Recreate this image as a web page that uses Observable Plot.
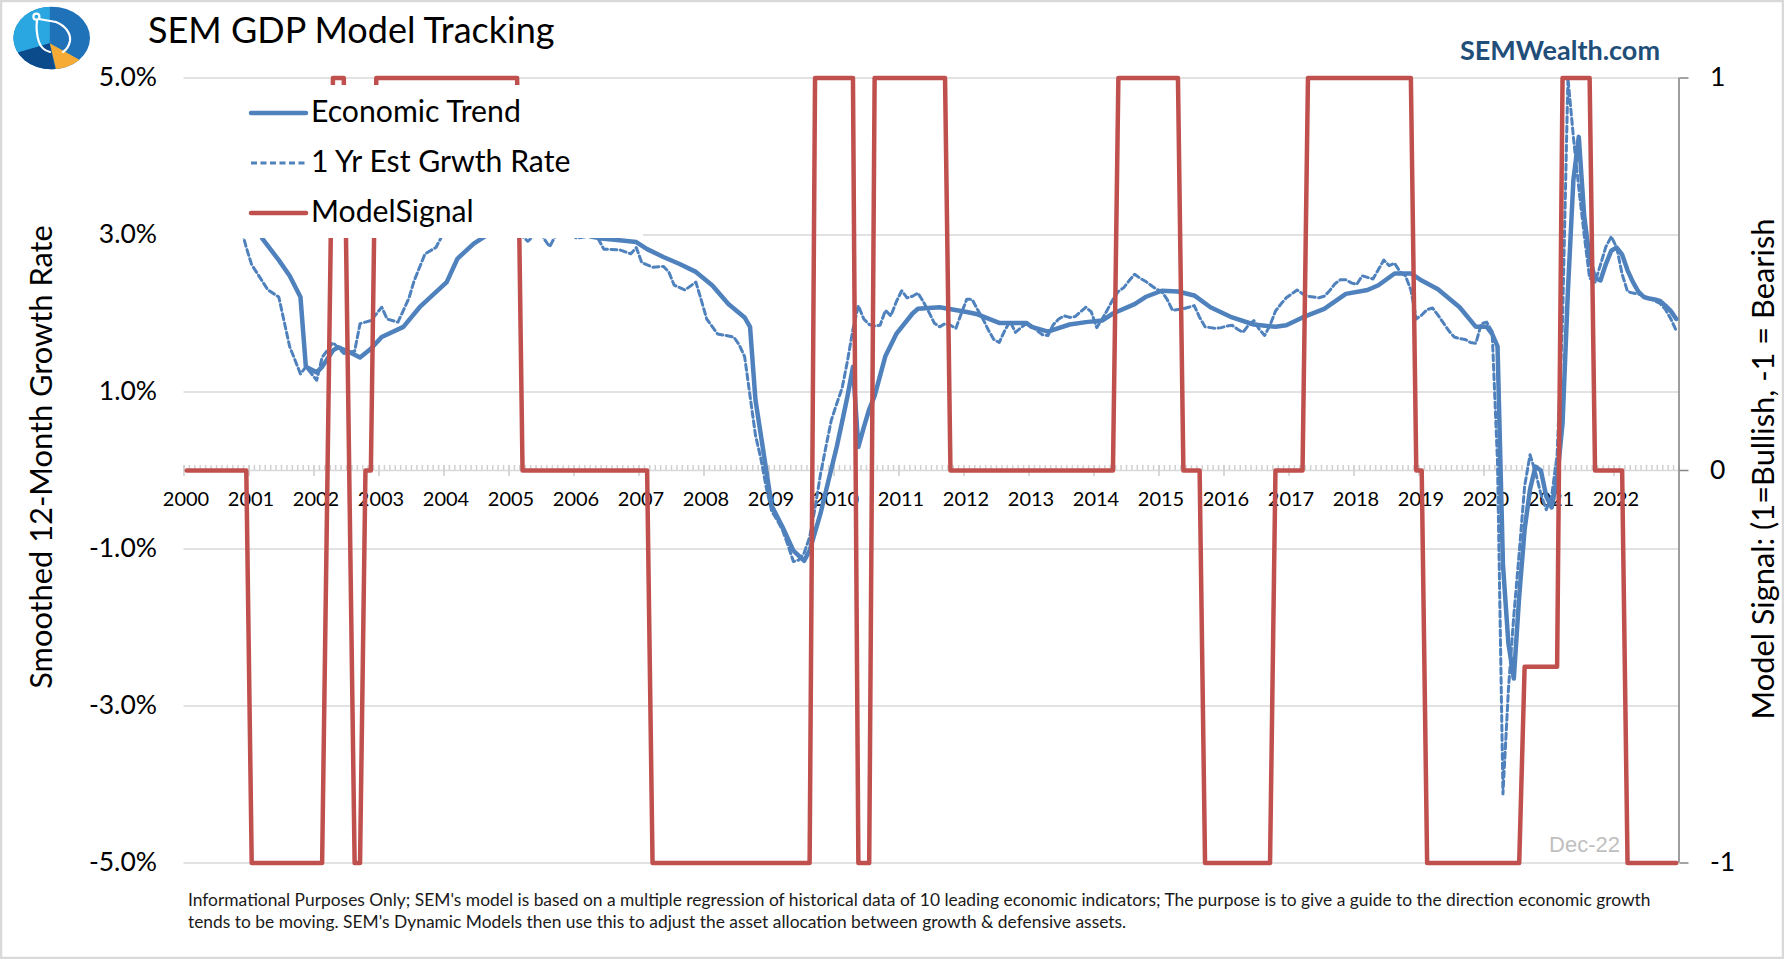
<!DOCTYPE html>
<html>
<head>
<meta charset="utf-8">
<script src="https://cdn.jsdelivr.net/npm/d3@7"></script>
<script src="https://cdn.jsdelivr.net/npm/@observablehq/plot@0.6"></script>
<style>
  html, body { margin: 0; padding: 0; background: #fff; overflow: hidden; }
  #wrap { position: relative; width: 1784px; height: 959px; font-family: Lato, sans-serif; }
  #chart { position: absolute; left: 0; top: 0; }
  #overlay { position: absolute; left: 0; top: 0; pointer-events: none; }
</style>
</head>
<body>
<div id="wrap">
  <div id="chart"></div>
  <svg id="overlay" width="1784" height="959" xmlns="http://www.w3.org/2000/svg" font-family="Lato, sans-serif">
    <rect x="1" y="1" width="1782" height="957" fill="none" stroke="#d9d9d9" stroke-width="2.5"/>
    <defs>
      <clipPath id="logoClip"><ellipse cx="51.7" cy="38" rx="38.3" ry="31.3"/></clipPath>
    </defs>
    <g clip-path="url(#logoClip)">
      <rect x="10" y="4" width="84" height="70" fill="#1f72b8"/>
      <path d="M49.8,43.3 L15.3,53.3 L0,60 L0,0 L49.8,0 Z" fill="#2aa7e0"/>
      <path d="M49.8,43.3 L15.3,53.3 L10,80 L57.4,80 Z" fill="#0b4a8b"/>
      <path d="M49.8,43.3 L57.4,75 L90,66 L78.5,59.3 Z" fill="#f5ab35"/>
    </g>
    <g fill="none" stroke="#fff" stroke-width="2.2" stroke-linecap="round">
      <circle cx="36.4" cy="16.7" r="3"/>
      <path d="M37,20 C36,28 37,36 39,42 C41,48 46,51 50,52"/>
      <path d="M39,19 L56,22 C66,26 71,34 70,41 C69,46 66,50 63,52"/>
    </g>
    <text x="148" y="43" font-size="36" fill="#000">SEM GDP Model Tracking</text>
    <text x="1660" y="60" font-size="27" font-weight="bold" fill="#1f4e79" text-anchor="end">SEMWealth.com</text>

    <rect x="180" y="85" width="463" height="153" fill="#fff"/>
    <line x1="251" x2="306" y1="113" y2="113" stroke="#4f81bd" stroke-width="4.5" stroke-linecap="round"/>
    <line x1="251" x2="306" y1="163" y2="163" stroke="#4f81bd" stroke-width="3" stroke-dasharray="6,3.5"/>
    <line x1="251" x2="306" y1="213" y2="213" stroke="#c0504d" stroke-width="4.5" stroke-linecap="round"/>
    <text x="311" y="122" font-size="30.2" fill="#000">Economic Trend</text>
    <text x="311" y="172" font-size="30.2" fill="#000">1 Yr Est Grwth Rate</text>
    <text x="311" y="222" font-size="30.2" fill="#000">ModelSignal</text>

    <text transform="translate(40,457) rotate(-90)" text-anchor="middle" dominant-baseline="central" font-size="30.8" fill="#000">Smoothed  12-Month Growth Rate</text>
    <text transform="translate(1762,469) rotate(-90)" text-anchor="middle" dominant-baseline="central" font-size="30.8" fill="#000">Model Signal: (1=Bullish, -1 = Bearish</text>

    <text x="1620" y="852" font-size="22" font-family="Liberation Sans, Arial, sans-serif" fill="#bfbfbf" text-anchor="end">Dec-22</text>

    <text x="188" y="906" font-size="17.4" fill="#1a1a1a">Informational Purposes Only; SEM's model is based on a multiple regression of historical data of 10 leading economic indicators; The purpose is to give a guide to the direction economic growth</text>
    <text x="188" y="928" font-size="17.4" fill="#1a1a1a">tends to be moving. SEM's Dynamic Models then use this to adjust the asset allocation between growth &amp; defensive assets.</text>
  </svg>
</div>
<script>
// ---- data ----
const yearLabels = [2000,2001,2002,2003,2004,2005,2006,2007,2008,2009,2010,2011,2012,2013,2014,2015,2016,2017,2018,2019,2020,2021,2022];
const leftTicks = [5, 3, 1, -1, -3, -5];
const rightTicks = [1, 0, -1];

// Economic Trend (solid), [month, % value]
const economicTrend = [
["2000-01",3.7],["2000-05",3.9],["2000-09",3.7],["2001-01",3.3],["2001-03",2.95],["2001-06",2.68],["2001-08",2.48],
["2001-10",2.21],["2001-11",1.32],["2002-01",1.25],["2002-02",1.32],["2002-04",1.53],["2002-05",1.57],["2002-07",1.51],
["2002-09",1.44],["2002-11",1.55],["2003-01",1.70],["2003-05",1.83],["2003-08",2.08],["2004-01",2.40],["2004-03",2.70],
["2004-06",2.89],["2004-08",2.98],["2005-01",3.2],["2005-07",3.3],["2006-01",3.1],["2006-05",2.96],["2006-08",2.94],
["2006-12",2.91],["2007-02",2.82],["2007-05",2.72],["2007-08",2.63],["2007-11",2.53],["2008-02",2.36],["2008-05",2.12],
["2008-08",1.95],["2008-09",1.83],["2008-10",0.90],["2008-11",0.45],["2008-12",0.0],["2009-01",-0.45],["2009-03",-0.72],
["2009-05",-1.02],["2009-07",-1.15],["2009-08",-1.02],["2009-10",-0.55],["2009-12",0.02],["2010-01",0.30],["2010-02",0.62],
["2010-03",0.95],["2010-04",1.32],["2010-05",0.30],["2010-06",0.55],["2010-07",0.78],["2010-08",0.95],["2010-10",1.46],
["2010-12",1.74],["2011-03",2.00],["2011-04",2.06],["2011-08",2.08],["2012-01",2.02],["2012-03",1.99],["2012-07",1.88],
["2012-12",1.88],["2013-01",1.83],["2013-04",1.77],["2013-08",1.86],["2013-11",1.89],["2014-02",1.91],["2014-04",2.00],
["2014-08",2.12],["2014-10",2.21],["2015-01",2.29],["2015-04",2.28],["2015-07",2.23],["2015-10",2.08],["2016-02",1.95],
["2016-06",1.86],["2016-10",1.83],["2016-12",1.85],["2017-03",1.95],["2017-07",2.06],["2017-11",2.25],["2018-03",2.30],
["2018-05",2.36],["2018-08",2.51],["2018-11",2.51],["2019-01",2.42],["2019-04",2.31],["2019-08",2.08],["2019-11",1.83],
["2020-01",1.83],["2020-02",1.74],["2020-03",1.58],["2020-04",-1.20],["2020-05",-2.20],["2020-06",-2.65],["2020-07",-1.60],
["2020-08",-0.75],["2020-09",-0.24],["2020-10",0.05],["2020-11",0.00],["2020-12",-0.33],["2021-01",-0.47],["2021-02",-0.10],
["2021-03",0.60],["2021-04",2.30],["2021-05",3.70],["2021-06",4.25],["2021-07",3.24],["2021-08",2.70],["2021-09",2.45],
["2021-10",2.42],["2021-11",2.63],["2021-12",2.80],["2022-01",2.84],["2022-02",2.75],["2022-03",2.55],["2022-04",2.40],
["2022-05",2.28],["2022-06",2.21],["2022-07",2.19],["2022-08",2.18],["2022-09",2.16],["2022-10",2.10],["2022-11",2.03],
["2022-12",1.93]
];

// 1 Yr Est Grwth Rate (dashed), [month, % value]
const estGrowth = [
["2000-01",3.4],["2000-04",3.7],["2000-08",3.5],["2000-11",3.1],["2000-12",2.84],["2001-01",2.62],["2001-04",2.30],
["2001-06",2.21],["2001-08",1.58],["2001-10",1.23],["2001-11",1.32],["2002-01",1.15],["2002-02",1.44],["2002-04",1.63],
["2002-06",1.49],["2002-08",1.52],["2002-09",1.87],["2002-11",1.91],["2003-01",2.08],["2003-02",1.93],["2003-04",1.89],
["2003-06",2.19],["2003-07",2.42],["2003-09",2.76],["2003-11",2.84],["2003-12",2.97],["2004-03",3.2],["2004-08",3.4],
["2005-01",3.15],["2005-03",2.98],["2005-04",2.92],["2005-06",3.05],["2005-08",2.85],["2005-09",2.98],["2005-11",3.05],
["2006-01",2.96],["2006-03",2.98],["2006-05",2.95],["2006-06",2.82],["2006-09",2.81],["2006-11",2.76],["2006-12",2.84],
["2007-01",2.65],["2007-03",2.59],["2007-05",2.60],["2007-06",2.53],["2007-07",2.36],["2007-09",2.30],["2007-11",2.40],
["2007-12",2.17],["2008-01",1.93],["2008-03",1.74],["2008-06",1.70],["2008-07",1.60],["2008-08",1.45],["2008-09",0.95],
["2008-10",0.45],["2008-11",0.15],["2008-12",-0.22],["2009-01",-0.52],["2009-02",-0.63],["2009-03",-0.76],["2009-04",-0.95],
["2009-05",-1.16],["2009-06",-1.14],["2009-07",-1.05],["2009-08",-0.85],["2009-09",-0.48],["2009-10",-0.05],["2009-11",0.30],
["2009-12",0.64],["2010-01",0.85],["2010-02",1.05],["2010-03",1.40],["2010-04",1.80],["2010-05",2.10],["2010-06",1.93],
["2010-07",1.86],["2010-08",1.84],["2010-09",1.85],["2010-10",2.04],["2010-11",1.97],["2010-12",2.15],["2011-01",2.29],
["2011-02",2.20],["2011-03",2.22],["2011-04",2.26],["2011-05",2.15],["2011-06",2.02],["2011-07",1.88],["2011-08",1.83],
["2011-09",1.87],["2011-10",1.85],["2011-11",1.81],["2011-12",2.00],["2012-01",2.18],["2012-02",2.18],["2012-03",2.05],
["2012-04",1.93],["2012-05",1.79],["2012-06",1.67],["2012-07",1.63],["2012-08",1.78],["2012-09",1.90],["2012-10",1.76],
["2012-11",1.82],["2012-12",1.87],["2013-01",1.84],["2013-02",1.78],["2013-03",1.73],["2013-04",1.72],["2013-05",1.86],
["2013-06",1.93],["2013-07",1.97],["2013-08",1.95],["2013-09",1.96],["2013-10",2.02],["2013-11",2.08],["2013-12",2.02],
["2014-01",1.82],["2014-02",1.93],["2014-03",2.05],["2014-04",2.18],["2014-05",2.28],["2014-06",2.33],["2014-07",2.42],
["2014-08",2.50],["2014-09",2.45],["2014-10",2.41],["2014-11",2.36],["2014-12",2.31],["2015-01",2.28],["2015-02",2.18],
["2015-03",2.04],["2015-04",2.05],["2015-05",2.06],["2015-06",2.08],["2015-07",2.10],["2015-08",1.95],["2015-09",1.83],
["2015-10",1.82],["2015-11",1.81],["2015-12",1.82],["2016-01",1.84],["2016-02",1.85],["2016-03",1.80],["2016-04",1.76],
["2016-05",1.85],["2016-06",1.91],["2016-07",1.80],["2016-08",1.72],["2016-09",1.85],["2016-10",2.03],["2016-11",2.12],
["2016-12",2.20],["2017-01",2.25],["2017-02",2.30],["2017-03",2.25],["2017-04",2.22],["2017-05",2.21],["2017-06",2.20],
["2017-07",2.22],["2017-08",2.29],["2017-09",2.38],["2017-10",2.43],["2017-11",2.43],["2017-12",2.39],["2018-01",2.37],
["2018-02",2.48],["2018-03",2.46],["2018-04",2.44],["2018-05",2.56],["2018-06",2.68],["2018-07",2.61],["2018-08",2.64],
["2018-09",2.53],["2018-10",2.48],["2018-11",2.30],["2018-12",1.93],["2019-01",1.98],["2019-02",2.05],["2019-03",2.07],
["2019-04",1.98],["2019-05",1.88],["2019-06",1.78],["2019-07",1.70],["2019-08",1.68],["2019-09",1.67],["2019-10",1.63],
["2019-11",1.62],["2019-12",1.87],["2020-01",1.89],["2020-02",1.77],["2020-03",0.10],["2020-04",-4.12],["2020-05",-2.80],
["2020-06",-1.85],["2020-07",-1.05],["2020-08",-0.20],["2020-09",0.20],["2020-10",-0.02],["2020-11",-0.30],["2020-12",-0.50],
["2021-01",-0.32],["2021-02",0.20],["2021-03",1.90],["2021-04",5.00],["2021-05",4.25],["2021-06",3.60],["2021-07",3.00],
["2021-08",2.45],["2021-09",2.40],["2021-10",2.62],["2021-11",2.85],["2021-12",2.98],["2022-01",2.84],["2022-02",2.50],
["2022-03",2.28],["2022-04",2.26],["2022-05",2.25],["2022-06",2.22],["2022-07",2.19],["2022-08",2.16],["2022-09",2.13],
["2022-10",2.05],["2022-11",1.93],["2022-12",1.78]
];

// ModelSignal runs: [first month, last month, signal]
const modelSignalRuns = [
["2000-01","2000-12",0],["2001-01","2002-02",-1],["2002-03","2002-03",0],["2002-04","2002-06",1],["2002-07","2002-07",0],
["2002-08","2002-09",-1],["2002-10","2002-11",0],["2002-12","2005-02",1],["2005-03","2007-02",0],["2007-03","2009-08",-1],
["2009-09","2010-04",1],["2010-05","2010-07",-1],["2010-08","2011-09",1],["2011-10","2014-04",0],["2014-05","2015-04",1],
["2015-05","2015-08",0],["2015-09","2016-09",-1],["2016-10","2017-03",0],["2017-04","2018-11",1],["2018-12","2019-01",0],
["2019-02","2020-07",-1],["2020-08","2021-02",-0.5],["2021-03","2021-08",1],["2021-09","2022-02",0],["2022-03","2022-12",-1]
];

// ---- helpers ----
// Excel-style monthly date axis: each month sits in the middle of its slot
const toT = m => { const [y, mo] = m.split("-").map(Number); return y + (mo - 0.5) / 12; };
const signalPoints = modelSignalRuns.flatMap(([a, b, v]) => a === b ? [[a, v]] : [[a, v], [b, v]]);
const monthBoundaries = d3.range(0, 23 * 12 + 1).map(i => 2000 + i / 12);
const SIG = 5; // secondary axis: signal 1 <-> 5%

const chart = Plot.plot({
  width: 1784,
  height: 959,
  marginLeft: 183.5,
  marginRight: 105.5,
  marginTop: 77.5,
  marginBottom: 96.5,
  x: {domain: [2000, 2023], axis: null},
  y: {domain: [-5, 5], axis: null},
  style: {fontFamily: "Lato, sans-serif", color: "#000", background: "transparent", overflow: "visible"},
  marks: [
    Plot.gridY(leftTicks, {stroke: "#d9d9d9", strokeOpacity: 1, strokeWidth: 1.6}),
    Plot.ruleY([0], {stroke: "#d9d9d9", strokeWidth: 1.6}),
    Plot.ruleX(monthBoundaries, {x: d => d, y1: 0, y2: 0.064, stroke: "#d0d0d0", strokeWidth: 1.5}),
    Plot.ruleX(yearLabels, {x: d => d, y1: -0.077, y2: 0.064, stroke: "#d0d0d0", strokeWidth: 1.6}),
    Plot.text(yearLabels, {x: d => d, y: 0, dx: 2, dy: 29, text: d => String(d), fontSize: 20, fill: "#000"}),
    Plot.axisY({ticks: leftTicks, anchor: "left", tickSize: 0, tickPadding: 27, label: null,
      tickFormat: d => d.toFixed(1) + "%", fontSize: 26.5, fill: "#000"}),
    Plot.axisY({ticks: rightTicks.map(d => d * SIG), anchor: "right", tickSize: 9, tickPadding: 22, label: null,
      tickFormat: d => String(d / SIG), fontSize: 26.5, stroke: "#868686", strokeWidth: 1.5, fill: "#000"}),
    Plot.ruleX([2023], {x: d => d, stroke: "#868686", strokeWidth: 1.6}),
    Plot.line(economicTrend, {x: d => toT(d[0]), y: d => d[1], stroke: "#4f81bd", strokeWidth: 4.5}),
    Plot.line(estGrowth, {x: d => toT(d[0]), y: d => d[1], stroke: "#4f81bd", strokeWidth: 3, strokeDasharray: "6,3.5"}),
    Plot.line(signalPoints, {x: d => toT(d[0]), y: d => d[1] * SIG, stroke: "#c0504d", strokeWidth: 4.5})
  ]
});
document.getElementById("chart").appendChild(chart);
</script>
</body>
</html>
